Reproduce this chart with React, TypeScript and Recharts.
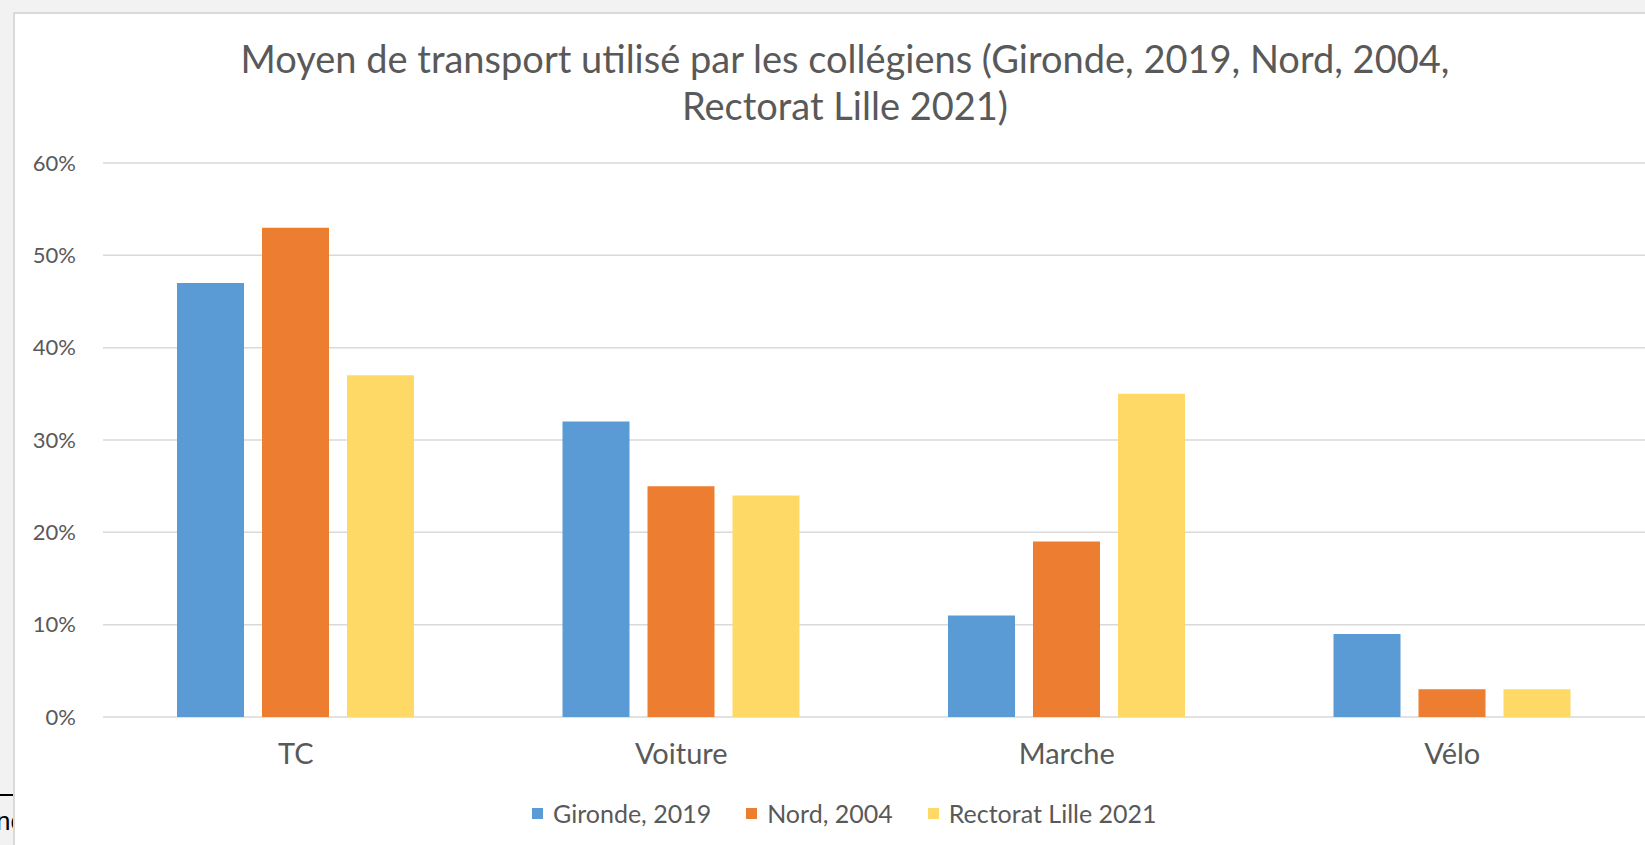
import React from 'react';
import { BarChart, Bar, XAxis, YAxis, CartesianGrid, Legend } from 'recharts';

const categories = ['TC', 'Voiture', 'Marche', 'Vélo'];
const gironde2019 = [47, 32, 11, 9];
const nord2004 = [53, 25, 19, 3];
const lille2021 = [37, 24, 35, 3];
const yTicks = [0, 10, 20, 30, 40, 50, 60];

const series = [
  { key: 'gironde', name: 'Gironde, 2019', color: '#5B9BD5' },
  { key: 'nord', name: 'Nord, 2004', color: '#ED7D31' },
  { key: 'lille', name: 'Rectorat Lille 2021', color: '#FFD966' },
];

const data = categories.map((cat, i) => ({
  cat,
  gironde: gironde2019[i],
  nord: nord2004[i],
  lille: lille2021[i],
}));

const FONT = 'Lato, "Open Sans", sans-serif';
const GREY = '#595959';

const LegendContent = ({ payload }: any) => (
  <div style={{ display: 'flex', alignItems: 'center', fontFamily: FONT, fontSize: 25, color: GREY }}>
    {(payload || []).map((p: any, i: number) => (
      <div key={p.value} style={{ display: 'flex', alignItems: 'center', marginRight: i < 2 ? 35 : 0 }}>
        <span style={{ width: 11, height: 11, background: p.color, display: 'inline-block', marginRight: 10 }} />
        <span>{p.value}</span>
      </div>
    ))}
  </div>
);

export default function App() {
  return (
    <div
      style={{
        position: 'relative',
        width: 1645,
        height: 845,
        background: '#f2f2f2',
        overflow: 'hidden',
        fontFamily: FONT,
      }}
    >
      <style>{'body{margin:0}'}</style>
      {/* bits of the page behind the chart */}
      <div style={{ position: 'absolute', left: 0, top: 794, width: 14, height: 2, background: '#000' }} />
      <div style={{ position: 'absolute', left: -4, top: 806, fontSize: 26, color: '#000', fontFamily: 'Liberation Sans' }}>
        nc
      </div>
      <div
        style={{
          position: 'absolute',
          left: 13,
          top: 12,
          width: 1660,
          height: 860,
          background: '#fff',
          border: '2px solid #d9d9d9',
        }}
      />
      <div
        style={{
          position: 'absolute',
          left: 0,
          width: 1690,
          top: 35,
          textAlign: 'center',
          color: GREY,
          fontSize: 38,
          lineHeight: '47px',
        }}
      >
        Moyen de transport utilisé par les collégiens (Gironde, 2019, Nord, 2004,
        <br />
        Rectorat Lille 2021)
      </div>
      <BarChart
        width={1645}
        height={845}
        data={data}
        margin={{ top: 163, right: 0, left: 0, bottom: 88 }}
        barSize={67}
        barGap={18}
        style={{ position: 'absolute', left: 0, top: 0 }}
      >
        <CartesianGrid vertical={false} stroke="#d9d9d9" strokeWidth={1.5} />
        <XAxis
          dataKey="cat"
          height={40}
          axisLine={false}
          tickLine={false}
          tickMargin={20}
          tick={{ fill: GREY, fontSize: 29, fontFamily: FONT }}
        />
        <YAxis
          width={103}
          domain={[0, 60]}
          ticks={yTicks}
          axisLine={false}
          tickLine={false}
          tickMargin={21}
          tickFormatter={(v) => `${v}%`}
          tick={{ fill: GREY, fontSize: 22, fontFamily: FONT }}
        />
        <Legend
          verticalAlign="middle"
          align="center"
          content={<LegendContent />}
          wrapperStyle={{ top: 798, left: 532, width: 'auto' }}
        />
        {series.map((s) => (
          <Bar key={s.key} dataKey={s.key} name={s.name} fill={s.color} isAnimationActive={false} />
        ))}
      </BarChart>
    </div>
  );
}
